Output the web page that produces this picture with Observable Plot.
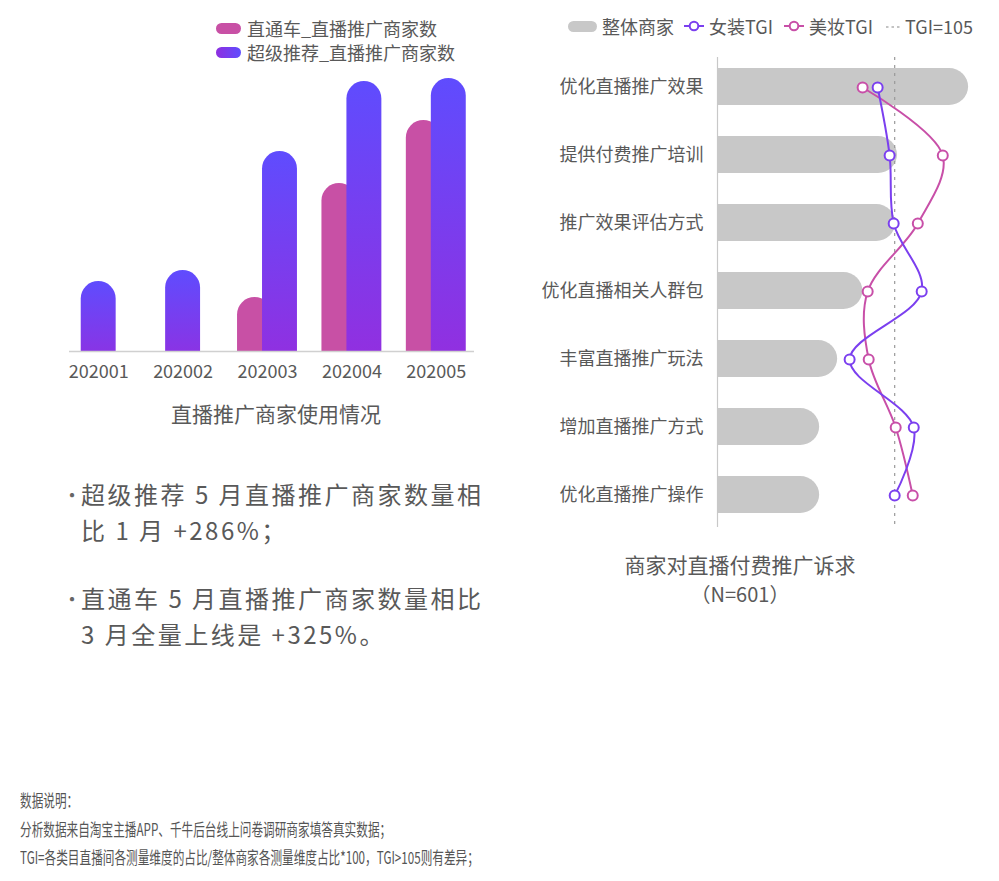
<!DOCTYPE html>
<html>
<head>
<meta charset="utf-8">
<script src="https://cdn.jsdelivr.net/npm/d3@7"></script>
<script src="https://cdn.jsdelivr.net/npm/@observablehq/plot@0.6"></script>
<style>
  body { margin:0; width:999px; height:881px; position:relative; background:#fff; overflow:hidden;
         font-family:"Noto Sans CJK SC","Noto Sans",sans-serif; color:#595959; }
  .abs { position:absolute; }
  .leg { position:absolute; display:flex; align-items:center; font-size:18px; color:#595959; white-space:nowrap; line-height:1; }
  .pill { display:inline-block; width:25px; height:11px; border-radius:6px; margin-right:6px; }
  .ri { position:absolute; top:15px; height:22px; display:flex; align-items:center; font-size:18px; color:#595959; white-space:nowrap; line-height:22px; }
  .title { position:absolute; font-size:21px; color:#595959; text-align:center; white-space:nowrap; line-height:22px; }
  .dot { position:absolute; left:62px; font-size:20px; line-height:36px; color:#666; }
  .bul { position:absolute; left:81px; font-size:24px; letter-spacing:2.5px; line-height:36px; color:#595959; white-space:nowrap; }
  .foot { position:absolute; left:20px; top:786px; font-size:17px; line-height:28.5px; color:#555; white-space:nowrap;
          transform:scaleX(0.685); transform-origin:left top; }
</style>
</head>
<body>
<div id="left" class="abs" style="left:0;top:0"></div>
<div id="rightBars" class="abs" style="left:500px;top:0"></div>
<div id="rightLines" class="abs" style="left:500px;top:0"></div>

<div class="leg" style="left:216px;top:19px;"><span class="pill" style="background:#c850a5"></span>直通车_直播推广商家数</div>
<div class="leg" style="left:216px;top:43px;"><span class="pill" style="background:linear-gradient(to right,#8e2fe0,#5f4cfe)"></span>超级推荐_直播推广商家数</div>
<div class="title" style="left:171px;top:402px;width:200px;">直播推广商家使用情况</div>

<div class="ri" style="left:568px;"><span style="display:inline-block;width:29px;height:11px;border-radius:6px;background:#c8c8c8;margin-right:5px"></span><span>整体商家</span></div>
<div class="ri" style="left:684px;"><svg width="20" height="12" style="margin-right:5px"><line x1="0" y1="6" x2="20" y2="6" stroke="#7b3fef" stroke-width="2"/><circle cx="10" cy="6" r="4.3" fill="#fff" stroke="#7b3fef" stroke-width="2"/></svg><span>女装TGI</span></div>
<div class="ri" style="left:784px;"><svg width="20" height="12" style="margin-right:5px"><line x1="0" y1="6" x2="20" y2="6" stroke="#c84fa8" stroke-width="2"/><circle cx="10" cy="6" r="4.3" fill="#fff" stroke="#c84fa8" stroke-width="2"/></svg><span>美妆TGI</span></div>
<div class="ri" style="left:886px;"><svg width="16" height="12" style="margin-right:3px"><line x1="0" y1="7" x2="16" y2="7" stroke="#888" stroke-width="1.2" stroke-dasharray="2.5,3"/></svg><span>TGI=105</span></div>

<div class="title" style="left:600px;top:553px;width:280px;">商家对直播付费推广诉求</div>
<div class="title" style="left:600px;top:583px;width:280px;font-size:20px;">（N=601）</div>

<div class="dot" style="top:477px;">•</div>
<div class="bul" style="top:476px;">超级推荐 5 月直播推广商家数量相<br>比 1 月 +286%；</div>
<div class="dot" style="top:581px;">•</div>
<div class="bul" style="top:580px;">直通车 5 月直播推广商家数量相比<br>3 月全量上线是 +325%。</div>

<div class="foot">数据说明：<br>分析数据来自淘宝主播APP、千牛后台线上问卷调研商家填答真实数据；<br>TGI=各类目直播间各测量维度的占比/整体商家各测量维度占比*100，TGI&gt;105则有差异；</div>

<script>
// ---------- data ----------
const months = ["202001", "202002", "202003", "202004", "202005"];
const ztcValues = [0, 0, 54, 168, 231];          // 直通车_直播推广商家数
const cjtjValues = [70, 81, 200, 270, 273];      // 超级推荐_直播推广商家数

const demands = ["优化直播推广效果", "提供付费推广培训", "推广效果评估方式", "优化直播相关人群包", "丰富直播推广玩法", "增加直播推广方式", "优化直播推广操作"];
const overallShare = [55.8, 40.0, 39.6, 32.3, 26.7, 22.7, 22.7]; // 整体商家 (%)
const womenTGI = [94.9, 102.0, 104.4, 121.0, 78.3, 116.3, 105.0]; // 女装TGI
const beautyTGI = [86.0, 133.5, 118.7, 89.0, 89.6, 105.6, 115.7]; // 美妆TGI
const tgiRef = 105;

// ---------- left chart ----------
const halfW = 0.207, off = 0.148;
const barRows = [];
months.forEach((m, i) => {
  const both = ztcValues[i] > 0;
  if (ztcValues[i] > 0) barRows.push({series: "ztc", i, c: i - off, v: ztcValues[i]});
  barRows.push({series: "cjtj", i, c: both ? i + off : i, v: cjtjValues[i]});
});
const pinkRows = barRows.filter(d => d.series === "ztc");
const blueRows = barRows.filter(d => d.series === "cjtj");

const fontStyle = {fontFamily: '"Noto Sans CJK SC","Noto Sans",sans-serif', color: "#595959", background: "transparent", overflow: "visible"};

const left = Plot.plot({
  width: 500, height: 400,
  marginTop: 51, marginBottom: 49, marginLeft: 56, marginRight: 22,
  style: {...fontStyle, fontSize: "18px"},
  x: {type: "linear", domain: [-0.5, 4.5], ticks: 5, tickFormat: i => months[i] ?? "", tickSize: 0, tickPadding: 14, label: null},
  y: {domain: [0, 300], axis: null},
  marks: [
    Plot.rect(pinkRows, {x1: d => d.c - halfW, x2: d => d.c + halfW, y1: 0, y2: "v", fill: "#c850a5", rx: 17.5, insetBottom: -20, clip: true}),
    Plot.rect(blueRows, {x1: d => d.c - halfW, x2: d => d.c + halfW, y1: 0, y2: "v", fill: "url(#gBlue)", rx: 17.5, insetBottom: -20, clip: true}),
    Plot.ruleY([0], {stroke: "#d0d0d0", strokeWidth: 1.5, insetLeft: 13, insetRight: 4})
  ]
});
const defs = d3.select(left).insert("defs", ":first-child");
const g = defs.append("linearGradient").attr("id", "gBlue").attr("x1", 0).attr("y1", 0).attr("x2", 0).attr("y2", 1);
g.append("stop").attr("offset", "0%").attr("stop-color", "#5f4cfe");
g.append("stop").attr("offset", "100%").attr("stop-color", "#942ede");
document.getElementById("left").appendChild(left);

// ---------- right chart ----------
const rows = demands.map((name, i) => ({name, overall: overallShare[i], women: womenTGI[i], beauty: beautyTGI[i]}));
const yBand = {domain: demands, paddingInner: 0.45, paddingOuter: 0.225};

const rightBars = Plot.plot({
  width: 499, height: 560,
  marginTop: 51, marginBottom: 30, marginLeft: 217, marginRight: 12,
  style: {...fontStyle, fontSize: "18px"},
  x: {domain: [0, 60], axis: null},
  y: {...yBand, tickSize: 0, tickPadding: 14, label: null},
  marks: [
    Plot.barX(rows, {y: "name", x: "overall", fill: "#c8c8c8", rx: 19, insetLeft: -25, clip: true}),
    Plot.ruleX([0], {stroke: "#c8c8c8", strokeWidth: 1.2, insetTop: 6, insetBottom: 3})
  ]
});
document.getElementById("rightBars").appendChild(rightBars);

const rightLines = Plot.plot({
  width: 499, height: 560,
  marginTop: 51, marginBottom: 30, marginLeft: 217, marginRight: 12,
  style: {...fontStyle, fontSize: "18px"},
  x: {domain: [0, 160], axis: null},
  y: {...yBand, axis: null},
  marks: [
    Plot.ruleX([tgiRef], {stroke: "#999", strokeWidth: 1.2, strokeDasharray: "3,5", insetTop: 6, insetBottom: 3}),
    Plot.lineX(rows, {x: "beauty", y: "name", stroke: "#c84fa8", strokeWidth: 2, curve: "catmull-rom"}),
    Plot.lineX(rows, {x: "women", y: "name", stroke: "#7b3fef", strokeWidth: 2, curve: "catmull-rom"}),
    Plot.dot(rows, {x: "beauty", y: "name", r: 5, fill: "#fff", stroke: "#c84fa8", strokeWidth: 2}),
    Plot.dot(rows, {x: "women", y: "name", r: 5, fill: "#fff", stroke: "#7b3fef", strokeWidth: 2})
  ]
});
document.getElementById("rightLines").appendChild(rightLines);
</script>
</body>
</html>
